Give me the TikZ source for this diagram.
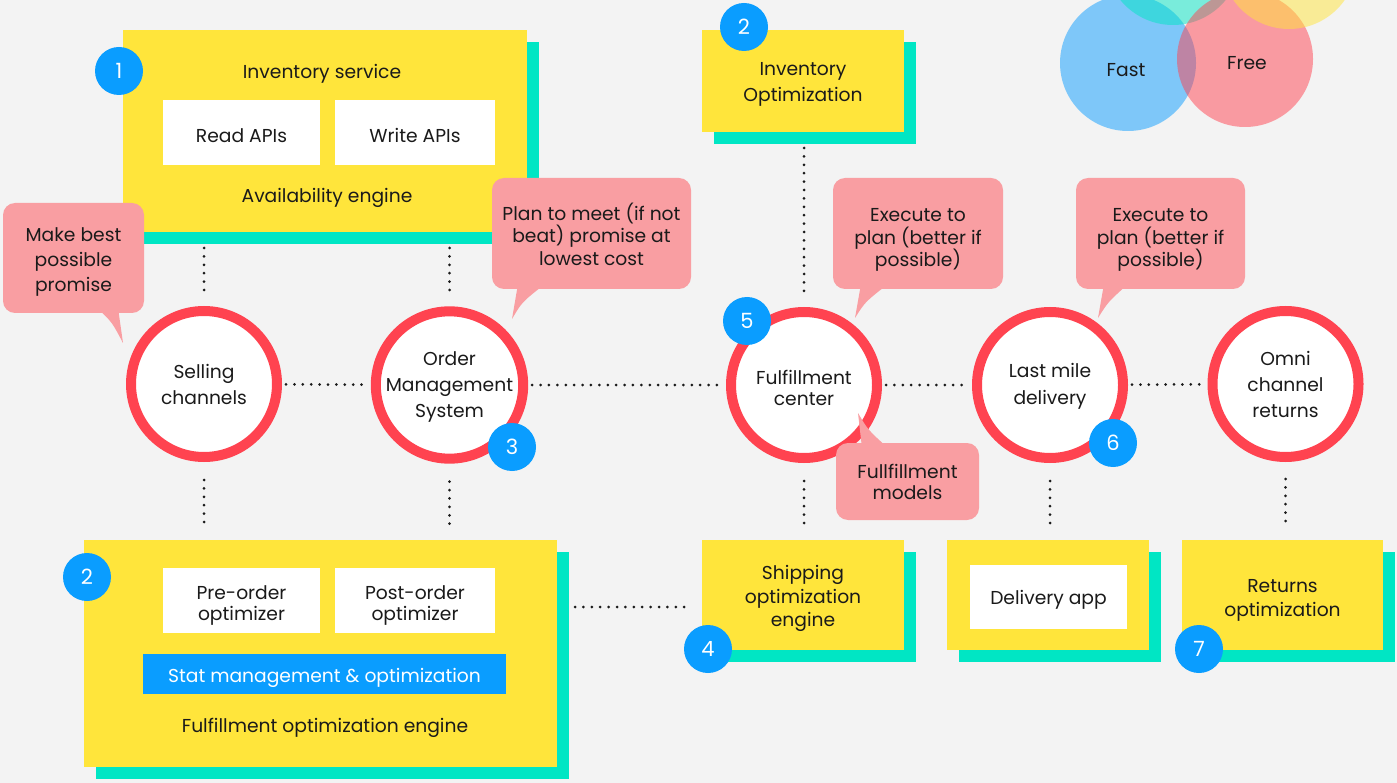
\documentclass[tikz,border=0pt]{standalone}
\usepackage{fontspec}
\setmainfont{Poppins}
\usetikzlibrary{shadows}
\definecolor{bgc}{HTML}{F3F3F3}
\definecolor{yel}{HTML}{FFE53B}
\definecolor{tealc}{HTML}{00E6C4}
\definecolor{ringc}{HTML}{FF4350}
\definecolor{bluec}{HTML}{0A9DFF}
\definecolor{pinkc}{HTML}{F99EA2}
\definecolor{txtc}{HTML}{1A1A1A}
\newcommand{\skz}[1]{\rule{0pt}{#1}}
\begin{document}
\begin{tikzpicture}[x=1pt,y=-1pt,
 every node/.style={font=\fontsize{18.7}{25}\selectfont, text=txtc, inner sep=0pt, outer sep=0pt, align=center},
 sink/.style={execute at begin node={\rule{0pt}{#1}}},
 lsp/.style={font=\fontsize{18.7}{#1}\selectfont},
 ybox/.style={fill=yel, draw=none, drop shadow={shadow xshift=12pt, shadow yshift=-12pt, fill=tealc, opacity=1}},
 wbox/.style={fill=white},
 ring/.style={circle, draw=ringc, line width=10pt, fill=white, minimum size=146pt, lsp=26},
 badge/.style={circle, fill=bluec, minimum size=48pt, text=white, font=\fontsize{21}{21}\selectfont},
 callbox/.style={fill=pinkc, rounded corners=12pt},
 tailc/.style={fill=pinkc},
 dotline/.style={draw=txtc, line width=3pt, line cap=round, dash pattern=on 0pt off 8.4pt},
 venn/.style={fill opacity=0.5}
]
\fill[bgc] (0,0) rectangle (1397,783);
\useasboundingbox (0,0) rectangle (1397,783);

% Venn circles
\begin{scope}
\clip (0,0) rectangle (1397,783);
\fill[bluec, venn] (1128,63) circle[radius=68pt];
\fill[tealc, venn] (1173,-43) circle[radius=68pt];
\fill[ringc, venn] (1245,59) circle[radius=68pt];
\fill[yel, venn] (1289,-39) circle[radius=68pt];
\end{scope}
\node[sink=17pt] (fast) at (1126,68) {Fast};
\node[sink=17pt] (free) at (1247,61) {Free};

% Inventory service box
\node[ybox, minimum width=404pt, minimum height=202pt] (inv) at (325,131) {};
\node[sink=20pt] (invt) at (322,71) {Inventory service};
\node[wbox, sink=20pt, minimum width=157pt, minimum height=65pt] (read) at (241.5,132.5) {Read APIs};
\node[wbox, sink=20pt, minimum width=160pt, minimum height=65pt] (write) at (415,132.5) {Write APIs};
\node[sink=20pt] (avail) at (327,195) {Availability engine};
\node[badge] (b1) at (119,71) {1};

% Inventory optimization
\node[ybox, lsp=26, minimum width=202pt, minimum height=102pt] (invopt) at (803,81) {\skz{19.5pt}Inventory\\Optimization};
\node[badge] (b2a) at (744,27) {2};

% Fulfillment optimization engine
\node[ybox, minimum width=473pt, minimum height=227pt] (foe) at (320.5,653.5) {};
\node[wbox, lsp=21, minimum width=157pt, minimum height=65pt] (pre) at (241.5,600.5) {\skz{23pt}Pre-order\\optimizer};
\node[wbox, lsp=21, minimum width=160pt, minimum height=65pt] (post) at (415,600.5) {\skz{23pt}Post-order\\optimizer};
\node[fill=bluec, text=white, sink=23pt, minimum width=363pt, minimum height=40pt] (stat) at (324.5,674) {Stat management \& optimization};
\node[sink=20pt] (foet) at (325,725) {Fulfillment optimization engine};
\node[badge] (b2b) at (87,577) {2};

% Bottom row boxes
\node[ybox, lsp=23.5, minimum width=202pt, minimum height=110pt] (ship) at (803,595) {\skz{22pt}Shipping\\optimization\\engine};
\node[badge] (b4) at (708,649) {4};
\node[ybox, minimum width=202pt, minimum height=110pt] (deliv) at (1048,595) {};
\node[wbox, sink=20pt, minimum width=157pt, minimum height=64pt] (dapp) at (1048.5,597) {Delivery app};
\node[ybox, lsp=24, minimum width=201pt, minimum height=110pt] (ret) at (1282.5,595) {\skz{23.5pt}Returns\\optimization};
\node[badge] (b7) at (1199,649) {7};

% Circles
\node[ring] (sell) at (204,384) {Selling\\channels};
\node[ring] (oms) at (449.5,385) {\skz{18pt}Order\\Management\\System};
\node[ring, lsp=21] (fc) at (804,385) {\skz{21pt}Fulfillment\\center};
\node[ring, lsp=27] (lmd) at (1050,385) {\skz{17pt}Last mile\\delivery};
\node[ring] (omni) at (1285.5,384) {Omni\\channel\\returns};
\node[badge] (b3) at (512,447) {3};
\node[badge] (b5) at (747,321) {5};
\node[badge] (b6) at (1113,443) {6};

% Dotted connectors
\draw[dotline, shorten <=9pt, shorten >=9pt] (sell) -- (oms);
\draw[dotline, shorten <=9pt, shorten >=9pt] (oms) -- (fc);
\draw[dotline, shorten <=9pt, shorten >=9pt] (fc) -- (lmd);
\draw[dotline, shorten <=9pt, shorten >=9pt] (lmd) -- (omni);
\draw[dotline, shorten <=16pt, shorten >=19pt] (sell.north |- inv.south) -- (sell);
\draw[dotline, shorten <=16pt, shorten >=19pt] (oms.north |- inv.south) -- (oms);
\draw[dotline, shorten <=16pt, shorten >=19pt] (fc.north |- invopt.south) -- (fc);
\draw[dotline, shorten <=23pt, shorten >=15pt] (sell) -- (sell.south |- foe.north);
\draw[dotline, shorten <=23pt, shorten >=15pt] (oms) -- (oms.south |- foe.north);
\draw[dotline, shorten <=23pt, shorten >=15pt] (fc) -- (fc.south |- ship.north);
\draw[dotline, shorten <=23pt, shorten >=15pt] (lmd) -- (lmd.south |- deliv.north);
\draw[dotline, shorten <=22pt, shorten >=15pt] (omni) -- (omni.south |- ret.north);
\coordinate (sw) at ([yshift=-12pt]ship.west);
\draw[dotline, shorten <=18pt, shorten >=10pt] (foe.east |- sw) -- (sw);

% Callouts
\node[callbox, lsp=25, minimum width=141pt, minimum height=110pt] (c1) at (73.5,258) {\skz{22pt}Make best\\possible\\promise};
\fill[tailc] (97,308) .. controls (112,322) .. (123,343) -- (118,308) -- cycle;
\node[callbox, lsp=22.5, minimum width=199pt, minimum height=111pt] (c2) at (591.5,233.5) {\skz{19pt}Plan to meet (if not\\beat) promise at\\lowest cost};
\fill[tailc] (518,284) -- (512,319) .. controls (522,302) .. (545,284) -- cycle;
\node[callbox, lsp=22.5, minimum width=170pt, minimum height=111pt] (c3) at (918,233.5) {\skz{26.5pt}Execute to\\plan (better if\\possible)};
\fill[tailc] (861,284) -- (855,318) .. controls (865,302) .. (888,284) -- cycle;
\node[callbox, lsp=22.5, minimum width=169pt, minimum height=111pt] (c4) at (1160.5,233.5) {\skz{26.5pt}Execute to\\plan (better if\\possible)};
\fill[tailc] (1104,284) -- (1098,318) .. controls (1108,302) .. (1128,284) -- cycle;
\node[callbox, lsp=21, minimum width=143pt, minimum height=77pt] (c5) at (907.5,481.5) {Fullfillment\\models};
\fill[tailc] (862,448) -- (858,413) .. controls (868,430) .. (888,448) -- cycle;
\end{tikzpicture}
\end{document}
